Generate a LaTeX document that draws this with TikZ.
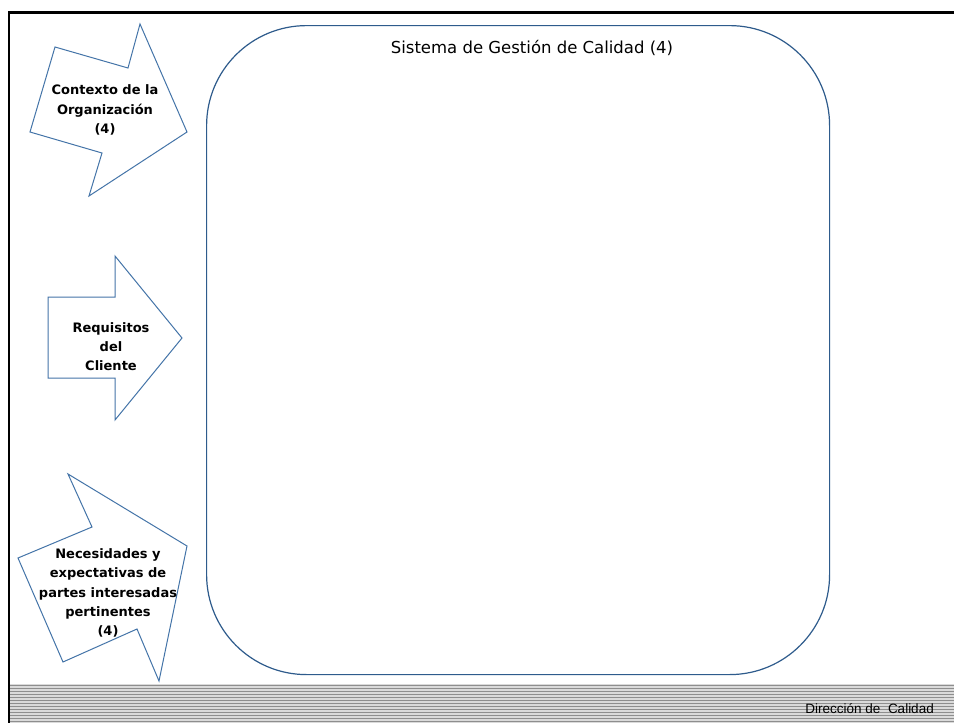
\documentclass[tikz,border=0pt]{standalone}
\usepackage{fontspec}
\setmainfont{DejaVu Sans}
\newfontfamily\footfont{Liberation Sans}
\definecolor{boxblue}{HTML}{2E5B8C}
\definecolor{arrowblue}{HTML}{4474A8}
\definecolor{stripelight}{HTML}{DADADA}
\definecolor{stripedark}{HTML}{8E8E8E}
\tikzset{
  bigarrow/.style={draw=arrowblue, line width=1pt, fill=white, line join=miter},
  arrowtext/.style={align=center, font=\fontsize{13}{19.3}\selectfont\bfseries, inner sep=0pt},
}
\begin{document}
\begin{tikzpicture}[x=1pt,y=-1pt]
\useasboundingbox (0,0) rectangle (954,723);
\fill[white] (0,0) rectangle (954,723);

% striped footer band
\fill[stripelight] (10,684) rectangle (954,723);
\foreach \k in {0,...,12}
  \draw[stripedark, line width=1.3pt] (10,685.5+3*\k) -- (954,685.5+3*\k);

% page frame (top and left rules)
\draw[black, line width=2.6pt] (954,12.5) -- (9,12.5) -- (9,723);

% quality management system box
\node[draw=boxblue, line width=1.2pt, rounded corners=100pt, minimum width=623pt,
      minimum height=649pt, inner sep=0pt, anchor=north west] (sgc) at (206,25) {};
\node[font=\fontsize{16.5}{20}\selectfont, anchor=base] (title) at (532,53.5)
  {Sistema de Gestión de Calidad (4)};

% input arrows
\draw[bigarrow] (55,47) -- (128,68) -- (140,24) -- (187,132) -- (89,196)
  -- (102,153) -- (30,132) -- cycle;
\node[arrowtext] (contexto) at (105,110)
  {Contexto de la\\Organización\\(4)};

\draw[bigarrow] (48,297) -- (115,297) -- (115,256) -- (182,338) -- (115,420)
  -- (115,378) -- (48,378) -- cycle;
\node[arrowtext] (requisitos) at (111,346.5)
  {Requisitos\\del\\Cliente};

\draw[bigarrow] (68,474) -- (187,546) -- (159,681) -- (137,629) -- (63,662)
  -- (18,558) -- (92,527) -- cycle;
\node[arrowtext] (necesidades) at (108,593)
  {Necesidades y\\expectativas de\\partes interesadas\\pertinentes\\(4)};

% footer label
\node[font=\footfont\fontsize{13.5}{16}\selectfont, anchor=base east, inner sep=0pt]
  (footer) at (934,713.3) {Dirección de\ \ Calidad};
\end{tikzpicture}
\end{document}
